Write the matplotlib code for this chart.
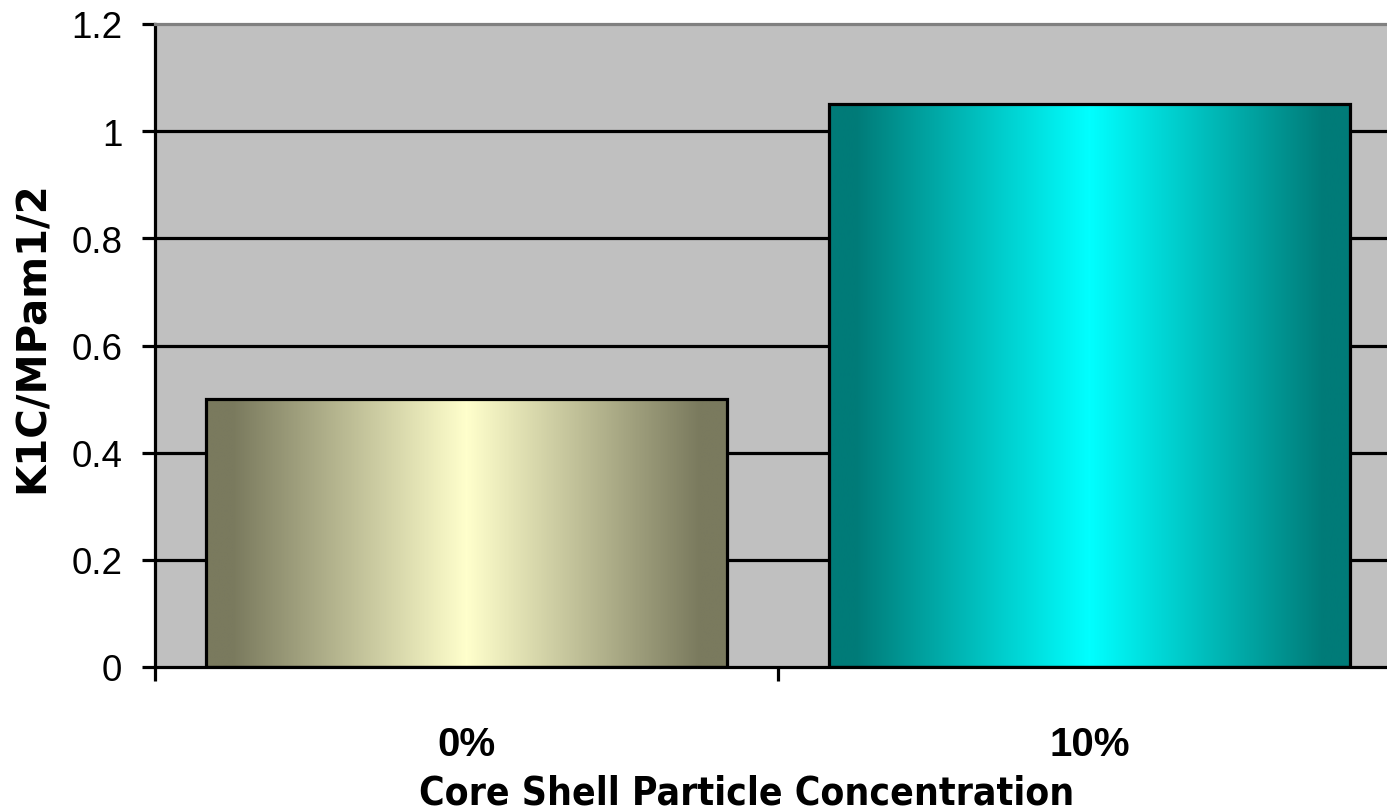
import numpy as np
import matplotlib.pyplot as plt
from matplotlib.colors import LinearSegmentedColormap

# toughness values per core shell particle loading
categories = ['0%', '10%']
k1c = [0.5, 1.05]
edge_colors = ['#7a7a5e', '#007b78']
center_colors = ['#ffffcc', '#00ffff']

yticks = [0, 0.2, 0.4, 0.6, 0.8, 1.0, 1.2]
ytick_labels = ['0', '0.2', '0.4', '0.6', '0.8', '1', '1.2']

W, H = 1387, 812
fig = plt.figure(figsize=(W / 100, H / 100), dpi=100)
ax = fig.add_axes([155 / W, (H - 668) / H, 1246 / W, 643 / H])
ax.set_facecolor('#c0c0c0')

# horizontal gridlines
for y in yticks[1:-1]:
    ax.axhline(y, color='black', lw=2.3, zorder=1)

# bars with a horizontal shading that peaks in the middle
prof = np.linspace(-1, 1, 400)
prof = np.clip(np.abs(prof) / 0.9, 0, 1)
grad = (1 - prof)[None, :]
width = 0.835
for i, v in enumerate(k1c):
    x0 = i + 0.5 - width / 2
    cmap = LinearSegmentedColormap.from_list('b%d' % i, [edge_colors[i], center_colors[i]])
    ax.imshow(grad, cmap=cmap, aspect='auto', extent=(x0, x0 + width, 0, v),
              vmin=0, vmax=1, zorder=2, interpolation='bilinear')
    ax.bar(i + 0.5, v, width=width, facecolor='none', edgecolor='black', lw=2.3, zorder=3)

ax.set_xlim(0, 2)
ax.set_ylim(0, 1.2)

for s in ['left', 'bottom']:
    ax.spines[s].set_linewidth(2.3)
    ax.spines[s].set_color('black')
ax.spines['top'].set_color('#808080')
ax.spines['top'].set_linewidth(2.3)
ax.spines['right'].set_visible(False)

ax.set_yticks(yticks)
ax.set_yticklabels(ytick_labels, fontfamily='Liberation Sans', fontsize=26.5)
ax.tick_params(axis='y', length=9.5, width=2.3, pad=14)
ax.set_xticks([0, 1, 2])
ax.set_xticklabels([])
ax.tick_params(axis='x', length=10, width=2.3)

for i, c in enumerate(categories):
    ax.text(i + 0.5, -0.143, c, ha='center', va='center', fontsize=29,
            fontweight='bold', fontfamily='Liberation Sans')

fig.text(747 / W, (H - 794) / H, 'Core Shell Particle Concentration', ha='center', va='center',
         fontsize=28, fontweight='bold', fontfamily='DejaVu Sans', fontstretch='condensed')
fig.text(33 / W, (H - 337) / H, 'K1C/MPam1/2', ha='center', va='center', rotation=90,
         fontsize=29, fontweight='bold', fontfamily='DejaVu Sans')

fig.savefig('out.png', dpi=100)
